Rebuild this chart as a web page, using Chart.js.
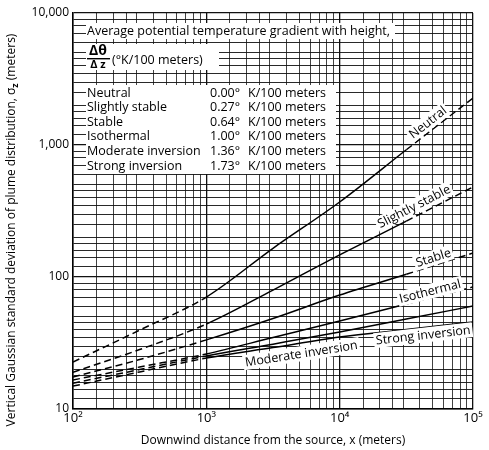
<!DOCTYPE html>
<html>
<head>
<meta charset="utf-8">
<script src="https://cdn.jsdelivr.net/npm/chart.js@4.4.1/dist/chart.umd.min.js"></script>
<style>
  html, body { margin: 0; padding: 0; background: #fff; }
  #wrap { width: 489px; height: 450px; }
</style>
</head>
<body>
<div id="wrap"><canvas id="sigmaZ" width="489" height="450"></canvas></div>
<script>
// downwind distance x (m)
const distance = [100, 316, 1000, 3162, 10000, 31623, 100000];

// sigma z (m)
const neutral = [22.7, 39.6, 70.5, 165, 370, 920, 2270];
const slightlyStable = [19, 28.2, 44, 79.6, 147, 265, 481];
const stable = [17.5, 23.7, 33.4, 48.5, 73, 105, 152];
const isothermal = [16.6, 20.8, 26.1, 34.8, 46.4, 62.4, 84];
const moderateInversion = [15.7, 19.9, 25.2, 31, 38.3, 48, 60.3];
const strongInversion = [14.9, 19.1, 24.3, 29.2, 35.1, 40, 45.6];

const seriesNames = ['Neutral', 'Slightly stable', 'Stable', 'Isothermal', 'Moderate inversion', 'Strong inversion'];
const gradients = ['0.00°', '0.27°', '0.64°', '1.00°', '1.36°', '1.73°'];

const yTickLabels = {10: '10', 100: '100', 1000: '1,000', 10000: '10,000'};
const xTickLabels = {100: '10²', 1000: '10³', 10000: '10⁴', 100000: '10⁵'};

const FONT = '"Open Sans", "DejaVu Sans", sans-serif';

// where each curve is dashed again on the right (beyond this x)
const dashAfter = [31623, 31623, 31623, 31623, 1e9, 1e9];

const allSeries = [neutral, slightlyStable, stable, isothermal, moderateInversion, strongInversion];

const datasets = allSeries.map((vals, i) => ({
  label: seriesNames[i],
  data: distance.map((d, j) => ({x: d, y: vals[j]})),
  borderColor: '#000',
  borderWidth: 1.5,
  pointRadius: 0,
  fill: false,
  cubicInterpolationMode: 'monotone',
  segment: {
    borderDash: ctx => {
      const x0 = ctx.p0.parsed.x;
      if (x0 < 1000 || x0 >= dashAfter[i]) return [7, 4];
      return undefined;
    }
  }
}));

function logTicks(min, max, mult) {
  const out = [];
  for (let d = min; d < max; d *= 10) {
    mult.forEach(m => out.push({value: Math.round(d * m * 1000) / 1000}));
  }
  out.push({value: max});
  return out;
}

function isDecade(v) {
  const l = Math.log10(v);
  return Math.abs(l - Math.round(l)) < 1e-6;
}

const labelsPlugin = {
  id: 'labels',
  afterDatasetsDraw(chart) {
    const ctx = chart.ctx;
    const xs = chart.scales.x, ys = chart.scales.y;

    function whiteBox(x0, y0, x1, y1) {
      ctx.fillStyle = '#fff';
      ctx.fillRect(x0, y0, x1 - x0, y1 - y0);
      ctx.fillStyle = '#000';
    }

    // along-curve labels
    function curveLabel(idx, logx, offset, text) {
      const vals = allSeries[idx];
      const px = xs.getPixelForValue(Math.pow(10, logx));
      let k = 0;
      while (k < distance.length - 2 && xs.getPixelForValue(distance[k + 1]) < px) k++;
      const ax = xs.getPixelForValue(distance[k]), bx = xs.getPixelForValue(distance[k + 1]);
      const ay = ys.getPixelForValue(vals[k]), by = ys.getPixelForValue(vals[k + 1]);
      const t = (px - ax) / (bx - ax);
      const py = ay + (by - ay) * t;
      const ang = Math.atan2(by - ay, bx - ax);
      ctx.save();
      ctx.translate(px, py);
      ctx.rotate(ang);
      ctx.font = '12.5px ' + FONT;
      const w = ctx.measureText(text).width;
      ctx.fillStyle = '#fff';
      ctx.fillRect(-w / 2 - 2, offset - 8, w + 4, 15);
      ctx.fillStyle = '#000';
      ctx.textAlign = 'center';
      ctx.textBaseline = 'middle';
      ctx.fillText(text, 0, offset);
      ctx.restore();
    }

    curveLabel(0, 4.70, -8, 'Neutral');
    curveLabel(1, 4.59, -9, 'Slightly stable');
    curveLabel(2, 4.72, -7, 'Stable');
    curveLabel(3, 4.69, -6, 'Isothermal');
    curveLabel(5, 4.62, 8, 'Strong inversion');
    curveLabel(5, 3.70, 11, 'Moderate inversion');

    // header box
    ctx.save();
    ctx.font = '12.5px ' + FONT;
    ctx.textBaseline = 'middle';
    const left = chart.chartArea.left;
    whiteBox(left + 13, 23, left + 322, 39);
    ctx.fillText('Average potential temperature gradient with height,', left + 14, 31);

    whiteBox(left + 13, 44, left + 146, 70);
    ctx.font = 'bold 14px ' + FONT;
    ctx.textAlign = 'center';
    ctx.fillText('Δθ', left + 25, 51);
    ctx.font = 'bold 11px ' + FONT;
    ctx.fillText('Δ z', left + 25, 65);
    ctx.fillRect(left + 14, 58, 23, 1.4);
    ctx.textAlign = 'left';
    ctx.font = '12.5px ' + FONT;
    ctx.fillText('(°K/100 meters)', left + 39, 60);

    whiteBox(left + 13, 85, left + 263, 174);
    seriesNames.forEach((name, i) => {
      const y = 93 + i * 14.6;
      ctx.fillText(name, left + 14, y);
      ctx.fillText(gradients[i], left + 137, y);
      ctx.fillText('K/100 meters', left + 175, y);
    });
    ctx.restore();
  },
  afterDraw(chart) {
    // y axis title with subscript
    const ctx = chart.ctx;
    ctx.save();
    ctx.translate(12, 230);
    ctx.rotate(-Math.PI / 2);
    ctx.fillStyle = '#000';
    ctx.textBaseline = 'middle';
    const a = 'Vertical Gaussian standard deviation of plume distribution, σ';
    const b = 'z';
    const c = ' (meters)';
    ctx.font = '12px ' + FONT;
    const wa = ctx.measureText(a).width, wc = ctx.measureText(c).width;
    ctx.font = 'bold 9px ' + FONT;
    const wb = ctx.measureText(b).width;
    let x = -(wa + wb + wc) / 2;
    ctx.font = '12px ' + FONT;
    ctx.fillText(a, x, 0);
    x += wa;
    ctx.font = 'bold 9px ' + FONT;
    ctx.fillText(b, x, 3);
    x += wb;
    ctx.font = '12px ' + FONT;
    ctx.fillText(c, x, 0);
    ctx.restore();
  }
};

new Chart(document.getElementById('sigmaZ').getContext('2d'), {
  type: 'line',
  data: { datasets: datasets },
  options: {
    responsive: false,
    animation: false,
    layout: { padding: { top: 13, right: 16, left: 0, bottom: 0 } },
    plugins: {
      legend: { display: false },
      tooltip: { enabled: false }
    },
    scales: {
      x: {
        type: 'logarithmic',
        min: 100,
        max: 100000,
        afterBuildTicks: s => { s.ticks = logTicks(100, 100000, [1, 1.5, 2, 2.5, 3, 4, 5, 6, 7, 8, 9]); },
        afterFit: s => { s.height = 41; },
        ticks: {
          autoSkip: false,
          maxRotation: 0,
          color: '#000',
          font: { family: FONT, size: 13 },
          padding: 1,
          callback: v => xTickLabels[v] || ''
        },
        grid: {
          color: '#111',
          lineWidth: ctx => (ctx.tick && isDecade(ctx.tick.value)) ? 1.3 : 0.8,
          drawTicks: false
        },
        border: { color: '#000', width: 1.5 },
        title: {
          display: true,
          text: 'Downwind distance from the source, x (meters)',
          color: '#000',
          font: { family: FONT, size: 12 },
          padding: { top: 3, bottom: 2 }
        }
      },
      y: {
        type: 'logarithmic',
        min: 10,
        max: 10000,
        afterBuildTicks: s => { s.ticks = logTicks(10, 10000, [1, 1.2, 1.4, 1.6, 1.8, 2, 2.5, 3, 3.5, 4, 4.5, 5, 6, 7, 8, 9]); },
        afterFit: s => { s.width = 73; },
        ticks: {
          autoSkip: false,
          color: '#000',
          font: { family: FONT, size: 12 },
          padding: 4,
          callback: v => yTickLabels[v] || ''
        },
        grid: {
          color: '#111',
          lineWidth: ctx => (ctx.tick && isDecade(ctx.tick.value)) ? 1.3 : 0.9,
          drawTicks: false
        },
        border: { color: '#000', width: 1.5 }
      }
    }
  },
  plugins: [labelsPlugin]
});
</script>
</body>
</html>
